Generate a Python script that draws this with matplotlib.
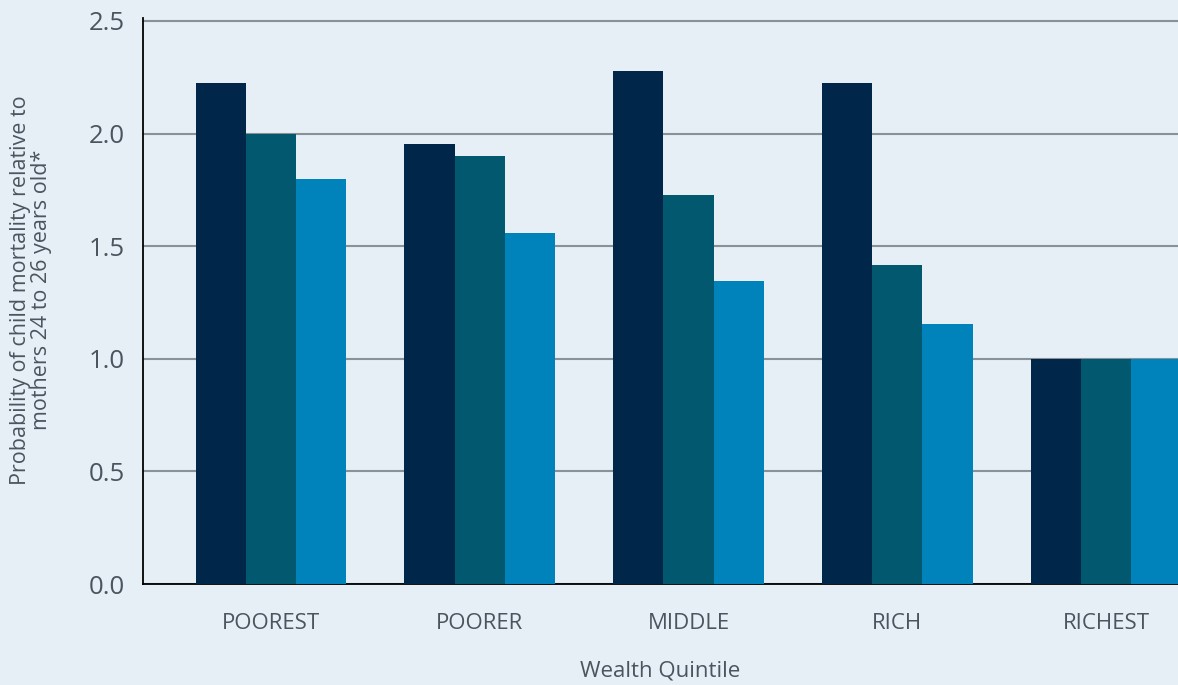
import matplotlib.pyplot as plt
import numpy as np

# Werte
quintiles = ['POOREST', 'POORER', 'MIDDLE', 'RICH', 'RICHEST']
series_a = [2.225, 1.955, 2.28, 2.225, 1.0]
series_b = [2.0, 1.90, 1.727, 1.417, 1.0]
series_c = [1.80, 1.558, 1.345, 1.155, 1.0]

colors = ['#00264a', '#02586e', '#0082ba']
bg = '#e6eff6'
txt = '#4a5560'

plt.rcParams['font.family'] = ['Open Sans', 'DejaVu Sans']

fig = plt.figure(figsize=(11.78, 6.85), dpi=100, facecolor=bg)
ax = fig.add_axes([143 / 1178, 101 / 685, 1 - 143 / 1178, (584 - 18) / 685])
ax.set_facecolor(bg)

x = np.arange(len(quintiles))
w = 0.24
for i, vals in enumerate([series_a, series_b, series_c]):
    ax.bar(x + (i - 1) * w, vals, width=w, color=colors[i], zorder=3)

ax.set_xlim(-0.612, 4.344)
ax.set_ylim(0, 2.5 * 566 / 563)
ax.set_yticks([0, 0.5, 1.0, 1.5, 2.0, 2.5])
ax.set_yticklabels(['0.0', '0.5', '1.0', '1.5', '2.0', '2.5'])
ax.yaxis.grid(True, color='#8a9299', linewidth=1.5, zorder=0)
ax.set_xticks(x)
ax.set_xticklabels(quintiles)

ax.tick_params(axis='y', length=0, pad=13, labelsize=18.5, labelcolor=txt)
ax.tick_params(axis='x', length=0, pad=21, labelsize=16, labelcolor=txt)

for s in ['top', 'right']:
    ax.spines[s].set_visible(False)
ax.spines['left'].set_linewidth(1.3)
ax.spines['bottom'].set_linewidth(1.3)

ax.set_xlabel('Wealth Quintile', fontsize=16, color=txt, labelpad=19)
fig.text(31 / 1178, (685 - 290) / 685,
         'Probability of child mortality relative to\nmothers 24 to 26 years old*',
         rotation=90, ha='center', va='center', fontsize=15.5, color=txt,
         linespacing=1.05)

fig.savefig('out.png', dpi=100, facecolor=bg)
